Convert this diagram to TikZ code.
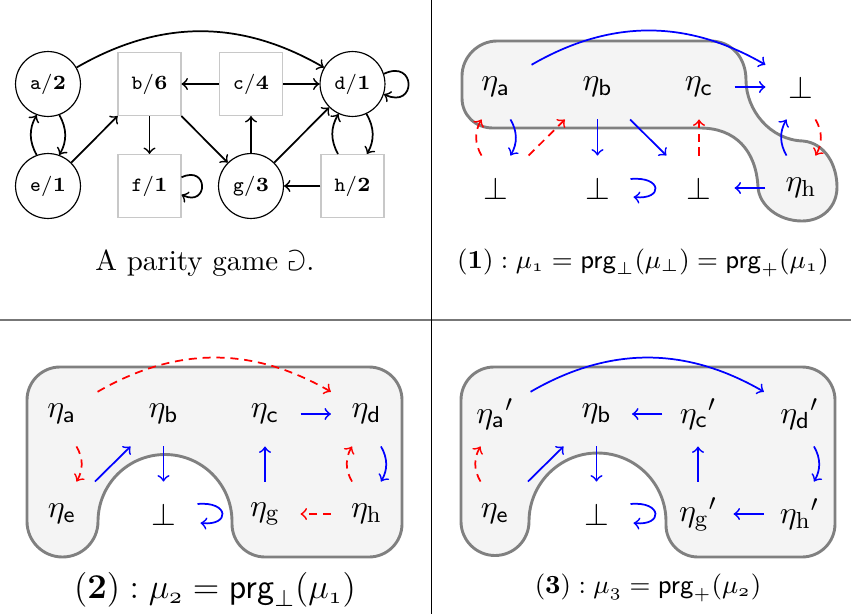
\documentclass[tikz,border=0pt]{standalone}
\usepackage{amsmath,amssymb}
\definecolor{blobfill}{HTML}{F4F4F4}
\definecolor{blobline}{HTML}{808080}
\definecolor{sqline}{HTML}{C8C8C8}
\definecolor{divline}{HTML}{777777}
\begin{document}
\begin{tikzpicture}[x=0.345pt,y=0.345pt,
  pgc/.style={circle,draw,line width=0.4pt,minimum size=22.4pt,inner sep=0pt,font=\scriptsize},
  pgs/.style={rectangle,draw=sqline,line width=0.4pt,minimum size=21.7pt,inner sep=0pt,font=\scriptsize},
  garr/.style={->,line width=0.6pt},
  etan/.style={minimum width=24.15pt,minimum height=22pt,inner sep=0pt,font=\fontsize{10.95}{13}\selectfont},
  barr/.style={->,blue,line width=0.6pt},
  rarr/.style={->,red,line width=0.6pt,dash pattern=on 2.8pt off 2pt},
  blob/.style={fill=blobfill,draw=blobline,line width=1pt},
]
\useasboundingbox (0,0) rectangle (851,-614);

% dividers
\draw[line width=0.6pt,divline] (0,-320) -- (851,-320);
\draw[line width=0.5pt] (431.5,0) -- (431.5,-614);

% ---------------- panel 1: the parity game
\node[pgc] (a) at (48,-84) {$\mathtt{a}/\mathbf{2}$};
\node[pgs] (b) at (149.5,-84) {$\mathtt{b}/\mathbf{6}$};
\node[pgs] (c) at (251,-84) {$\mathtt{c}/\mathbf{4}$};
\node[pgc] (d) at (352.5,-84) {$\mathtt{d}/\mathbf{1}$};
\node[pgc] (e) at (48,-186) {$\mathtt{e}/\mathbf{1}$};
\node[pgs] (f) at (149.5,-186) {$\mathtt{f}/\mathbf{1}$};
\node[pgc] (g) at (251,-186) {$\mathtt{g}/\mathbf{3}$};
\node[pgs] (h) at (352.5,-186) {$\mathtt{h}/\mathbf{2}$};

\draw[garr] (a.30) to[bend left=30] (d.150);
\draw[garr] (c) -- (b);
\draw[garr] (c) -- (d);
\draw[garr] (b) -- (f);
\draw[garr] (b) -- (g);
\draw[garr] (e) -- (b);
\draw[garr] (g) -- (c);
\draw[garr] (g) -- (d);
\draw[garr] (h) -- (g);
\draw[garr] (a.-70) to[bend left=30] (e.70);
\draw[garr] (e.110) to[bend left=30] (a.-110);
\draw[garr] (d.-65) to[bend left=30] ([xshift=5pt]h.north);
\draw[garr] ([xshift=-5pt]h.north) to[bend left=30] (d.-115);
\draw[garr] (d.18) .. controls +(25:36) and +(-25:36) .. (d.-18);
\draw[garr] ([yshift=3pt]f.east) .. controls +(25:30) and +(-25:30) .. ([yshift=-3pt]f.east);

\node (cap1) at (205,-263) {A parity game $\Game$.};

% ---------------- panel 2
\path[blob] (497,-41) -- (710,-41) .. controls (732,-41) and (746,-58) .. (746,-80)
  .. controls (746,-110) and (770,-140) .. (803,-141)
  .. controls (825,-143) and (837,-165) .. (837,-187)
  .. controls (837,-207) and (822,-221) .. (802,-221)
  .. controls (778,-221) and (759,-205) .. (758,-187)
  .. controls (756,-150) and (735,-128) .. (700,-128)
  -- (493,-128) .. controls (475,-128) and (462,-115) .. (462,-98)
  -- (462,-76) .. controls (462,-57) and (478,-41) .. (497,-41) -- cycle;

\node[etan] (A2) at (496,-87) {$\eta_{\mathsf{a}}$};
\node[etan] (B2) at (597.5,-87) {$\eta_{\mathsf{b}}$};
\node[etan] (C2) at (699,-87) {$\eta_{\mathsf{c}}$};
\node[etan] (D2) at (801,-87) {$\bot$};
\node[etan] (E2) at (496,-188) {$\bot$};
\node[etan] (F2) at (597.5,-188) {$\bot$};
\node[etan] (G2) at (699,-188) {$\bot$};
\node[etan] (H2) at (801,-188) {$\eta_{\mathrm{h}}$};

\draw[barr] (A2.32) to[bend left=30] (D2.148);
\draw[barr] (C2) -- (D2);
\draw[barr] ([xshift=5pt]A2.south) to[bend left=30] ([xshift=5pt]E2.north);
\draw[rarr] ([xshift=-5pt]E2.north) to[bend left=30] ([xshift=-5pt]A2.south);
\draw[rarr] (E2) -- (B2);
\draw[barr] (B2) -- (F2);
\draw[barr] (B2) -- (G2);
\draw[barr] ([shift={(33,9)}]F2.center) .. controls +(32,3) and +(30,-3) .. ([shift={(36,-9)}]F2.center);
\draw[rarr] (G2) -- (C2);
\draw[barr] (H2) -- (G2);
\draw[barr] ([xshift=-5pt]H2.north) to[bend left=30] ([xshift=-5pt]D2.south);
\draw[rarr] ([xshift=5pt]D2.south) to[bend left=30] ([xshift=5pt]H2.north);

\node[font=\small] (cap2) at (643,-263) {$(\mathbf{1}) : \mu_{\mathnormal{1}} = \mathsf{prg}_{\bot}(\mu_{\bot}) = \mathsf{prg}_{+}(\mu_{\mathnormal{1}})$};

% ---------------- panel 3
\path[blob] (60,-367) -- (369,-367) arc[start angle=90,end angle=0,radius=33]
  -- (402,-524) arc[start angle=0,end angle=-90,radius=33]
  -- (265,-557) arc[start angle=-90,end angle=-180,radius=33]
  -- (232,-521.5) arc[start angle=0,end angle=180,radius=67]
  arc[start angle=0,end angle=-180,radius=35.5]
  -- (27,-400) arc[start angle=180,end angle=90,radius=33] -- cycle;

\node[etan] (A3) at (62,-414) {$\eta_{\mathsf{a}}$};
\node[etan] (B3) at (163.5,-414) {$\eta_{\mathsf{b}}$};
\node[etan] (C3) at (265,-414) {$\eta_{\mathsf{c}}$};
\node[etan] (D3) at (366.5,-414) {$\eta_{\mathsf{d}}$};
\node[etan] (E3) at (62,-514) {$\eta_{\mathsf{e}}$};
\node[etan] (F3) at (163.5,-514) {$\bot$};
\node[etan] (G3) at (265,-514) {$\eta_{\mathrm{g}}$};
\node[etan] (H3) at (366.5,-514) {$\eta_{\mathrm{h}}$};

\draw[rarr] (A3.32) to[bend left=30] (D3.148);
\draw[rarr] ([xshift=5pt]A3.south) to[bend left=30] ([xshift=5pt]E3.north);
\draw[barr] (E3) -- (B3);
\draw[barr] (B3) -- (F3);
\draw[barr] ([shift={(34,10)}]F3.center) .. controls +(32,3) and +(30,-3) .. ([shift={(37,-9)}]F3.center);
\draw[barr] (G3) -- (C3);
\draw[barr] (C3) -- (D3);
\draw[barr] ([xshift=5pt]D3.south) to[bend left=30] ([xshift=5pt]H3.north);
\draw[rarr] ([xshift=-5pt]H3.north) to[bend left=30] ([xshift=-5pt]D3.south);
\draw[rarr] (H3) -- (G3);

\node[font=\fontsize{11.5}{14}\selectfont] (cap3) at (215,-590) {$(\mathbf{2}) : \mu_{\mathnormal{2}} = \mathsf{prg}_{\bot}(\mu_{\mathnormal{1}})$};

% ---------------- panel 4
\path[blob] (494,-367) -- (802,-367) arc[start angle=90,end angle=0,radius=33]
  -- (835,-524) arc[start angle=0,end angle=-90,radius=33]
  -- (698,-557) arc[start angle=-90,end angle=-180,radius=32]
  -- (666,-521.5) arc[start angle=0,end angle=180,radius=68.5]
  arc[start angle=0,end angle=-180,radius=34]
  -- (461,-400) arc[start angle=180,end angle=90,radius=33] -- cycle;

\node[etan] (A4) at (495,-414) {${\eta_{\mathsf{a}}}'$};
\node[etan] (B4) at (596.5,-414) {$\eta_{\mathsf{b}}$};
\node[etan] (C4) at (698,-414) {${\eta_{\mathsf{c}}}'$};
\node[etan] (D4) at (799.5,-414) {${\eta_{\mathsf{d}}}'$};
\node[etan] (E4) at (495,-514) {$\eta_{\mathsf{e}}$};
\node[etan] (F4) at (596.5,-514) {$\bot$};
\node[etan] (G4) at (698,-514) {${\eta_{\mathrm{g}}}'$};
\node[etan] (H4) at (799.5,-514) {${\eta_{\mathrm{h}}}'$};

\draw[barr] (A4.32) to[bend left=30] (D4.148);
\draw[rarr] ([xshift=-5pt]E4.north) to[bend left=30] ([xshift=-5pt]A4.south);
\draw[barr] (E4) -- (B4);
\draw[barr] (C4) -- (B4);
\draw[barr] (B4) -- (F4);
\draw[barr] ([shift={(34,10)}]F4.center) .. controls +(32,3) and +(30,-3) .. ([shift={(37,-9)}]F4.center);
\draw[barr] (G4) -- (C4);
\draw[barr] ([xshift=5pt]D4.south) to[bend left=30] ([xshift=5pt]H4.north);
\draw[barr] (H4) -- (G4);

\node[font=\small] (cap4) at (648,-588) {$(\mathbf{3}) : \mu_{\mathnormal{3}} = \mathsf{prg}_{+}(\mu_{\mathnormal{2}})$};
\end{tikzpicture}
\end{document}
